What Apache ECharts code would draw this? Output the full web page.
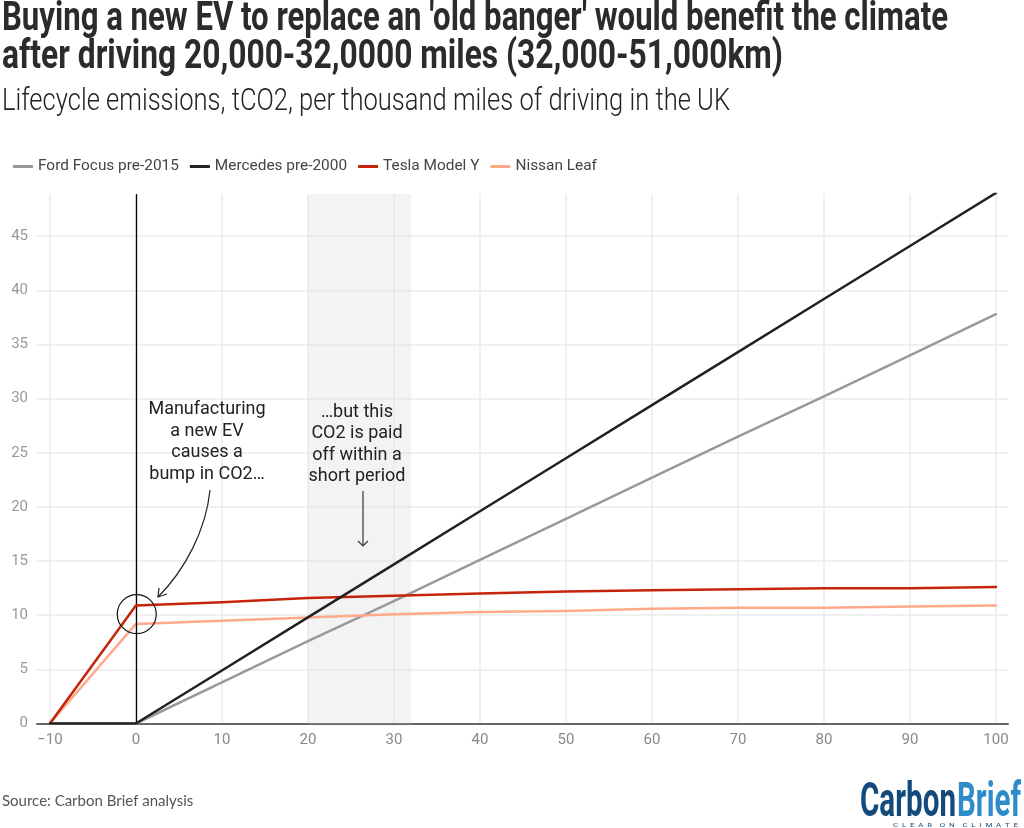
<!DOCTYPE html>
<html>
<head>
<meta charset="utf-8">
<style>
  html, body { margin: 0; padding: 0; background: #fff; }
  #chart { width: 1024px; height: 828px; }
</style>
</head>
<body>
<div id="chart"></div>
<script src="https://cdn.jsdelivr.net/npm/echarts@6/dist/echarts.min.js"></script>
<script>
const miles = [-10, 0, 10, 20, 30, 40, 50, 60, 70, 80, 90, 100];
const fordFocus = [0, 0, 3.8, 7.6, 11.3, 15.1, 18.9, 22.7, 26.5, 30.2, 34.0, 37.8];
const mercedes = [0, 0, 4.9, 9.8, 14.7, 19.6, 24.5, 29.4, 34.3, 39.2, 44.1, 49.0];
const teslaModelY = [0, 10.9, 11.2, 11.6, 11.8, 12.0, 12.2, 12.3, 12.4, 12.5, 12.5, 12.6];
const nissanLeaf = [0, 9.2, 9.5, 9.8, 10.1, 10.3, 10.4, 10.6, 10.7, 10.7, 10.8, 10.9];
const xTicks = [-10, 0, 10, 20, 30, 40, 50, 60, 70, 80, 90, 100];
const yTicks = [0, 5, 10, 15, 20, 25, 30, 35, 40, 45];
const payoffBand = [20, 32];
const bumpPoint = [0.1, 10.1];

const chart = echarts.init(document.getElementById('chart'), null, { renderer: 'canvas' });
const measure = document.createElement('canvas').getContext('2d');

function pairs(values) {
  return miles.map((m, i) => [m, values[i]]);
}

function lineSeries(name, values, color, z) {
  return {
    name,
    type: 'line',
    data: pairs(values),
    showSymbol: false,
    symbol: 'none',
    z,
    lineStyle: { color, width: 2.5, cap: 'round', join: 'round' },
    itemStyle: { color }
  };
}

function text(x, y, value, font, fill, extra) {
  return {
    type: 'text',
    x,
    y,
    z: 50,
    style: Object.assign({ text: value, font, fill, textVerticalAlign: 'middle' }, extra)
  };
}

// no condensed face is installed, so squeeze the text to the width it has in the picture
function fitted(x, y, value, font, fill, width) {
  measure.font = font;
  const el = text(x, y, value, font, fill);
  el.scaleX = width / measure.measureText(value).width;
  return el;
}

function centred(x, y, value) {
  return text(x, y, value, '18px Roboto', '#222', { textAlign: 'center' });
}

const series = [
  lineSeries('Ford Focus pre-2015', fordFocus, '#999999', 3),
  lineSeries('Mercedes pre-2000', mercedes, '#222222', 6),
  lineSeries('Tesla Model Y', teslaModelY, '#c5240c', 5),
  lineSeries('Nissan Leaf', nissanLeaf, '#ffa98a', 4)
];

series[0].markArea = {
  silent: true,
  itemStyle: { color: 'rgba(225,225,225,0.4)' },
  data: [[{ xAxis: payoffBand[0] }, { xAxis: payoffBand[1] }]]
};
series[1].markLine = {
  silent: true,
  symbol: 'none',
  label: { show: false },
  lineStyle: { color: '#000', width: 1.3, type: 'solid' },
  data: [{ xAxis: 0 }]
};
series.push({
  name: 'bump',
  type: 'scatter',
  data: [bumpPoint],
  symbol: 'circle',
  symbolSize: 39,
  silent: true,
  z: 7,
  itemStyle: { color: 'rgba(0,0,0,0)', borderColor: '#111', borderWidth: 1.2, opacity: 1 }
});

chart.setOption({
  animation: false,
  backgroundColor: '#fff',
  grid: { left: 37, right: 16, top: 194, bottom: 104.5, containLabel: false },
  legend: {
    left: 13,
    top: 159,
    padding: 0,
    data: series.slice(0, 4).map((s) => s.name),
    icon: 'rect',
    itemWidth: 20,
    itemHeight: 3,
    itemGap: 11,
    selectedMode: false,
    textStyle: { fontFamily: 'Roboto', fontSize: 15.4, color: '#444' }
  },
  xAxis: {
    type: 'value',
    min: -11.5,
    max: 101.4,
    axisLine: { show: true, onZero: false, lineStyle: { color: '#666', width: 2 } },
    axisTick: { show: false, customValues: xTicks },
    splitLine: { show: true, lineStyle: { color: '#ebebeb', width: 1.5 } },
    axisLabel: {
      customValues: xTicks,
      margin: 9,
      fontFamily: 'Roboto',
      fontSize: 15,
      color: '#888',
      formatter: (v) => (v < 0 ? '\u2212' + Math.abs(v) : String(v))
    }
  },
  yAxis: {
    type: 'value',
    min: 0,
    max: 48.9,
    axisLine: { show: false },
    axisTick: { show: false, customValues: yTicks },
    splitLine: { show: true, lineStyle: { color: '#ebebeb', width: 1.5 } },
    axisLabel: {
      customValues: yTicks,
      margin: 9,
      fontFamily: 'Roboto',
      fontSize: 15,
      color: '#999'
    }
  },
  series,
  graphic: [
    fitted(2, 20, "Buying a new EV to replace an 'old banger' would benefit the climate", 'bold 40px Roboto', '#2b2b2b', 946),
    fitted(2, 58, 'after driving 20,000-32,0000 miles (32,000-51,000km)', 'bold 40px Roboto', '#2b2b2b', 781),
    fitted(2, 102, 'Lifecycle emissions, tCO2, per thousand miles of driving in the UK', '300 31px Roboto', '#222', 728),
    centred(207, 409, 'Manufacturing'),
    centred(207, 431, 'a new EV'),
    centred(207, 452, 'causes a'),
    centred(207, 474, 'bump in CO2\u2026'),
    centred(357, 412, '\u2026but this'),
    centred(357, 433, 'CO2 is paid'),
    centred(357, 455, 'off within a'),
    centred(357, 476, 'short period'),
    {
      type: 'bezierCurve',
      z: 50,
      shape: { x1: 210, y1: 490, cpx1: 206, cpy1: 530, cpx2: 185, cpy2: 570, x2: 158, y2: 597 },
      style: { stroke: '#222', lineWidth: 1.2, fill: 'none' }
    },
    {
      type: 'polyline',
      z: 50,
      shape: { points: [[159, 588], [158, 597], [167, 594]] },
      style: { stroke: '#222', lineWidth: 1.2, fill: 'none' }
    },
    {
      type: 'line',
      z: 50,
      shape: { x1: 363, y1: 491, x2: 363, y2: 546 },
      style: { stroke: '#333', lineWidth: 1.2 }
    },
    {
      type: 'polyline',
      z: 50,
      shape: { points: [[358, 541], [363, 546], [368, 541]] },
      style: { stroke: '#333', lineWidth: 1.2, fill: 'none' }
    },
    text(2, 801, 'Source: Carbon Brief analysis', '15px Lato', '#555'),
    fitted(860, 804, 'Carbon', 'bold 48px Roboto', '#134a7c', 96),
    fitted(957, 804, 'Brief', 'bold 48px Roboto', '#2f8ccb', 64),
    fitted(893, 825, 'C  L  E  A  R    O  N    C  L  I  M  A  T  E', '6px Roboto', '#134a7c', 125)
  ]
});
</script>
</body>
</html>
